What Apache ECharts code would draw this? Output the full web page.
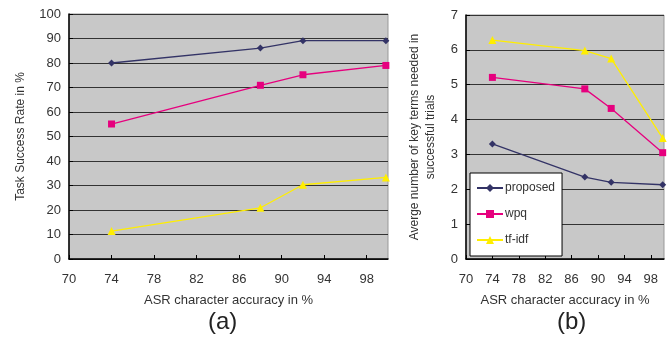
<!DOCTYPE html>
<html>
<head>
<meta charset="utf-8">
<script src="https://cdn.jsdelivr.net/npm/echarts@6/dist/echarts.min.js"></script>
<style>
html,body{margin:0;padding:0;background:#fff;}
#main{width:670px;height:341px;}
</style>
</head>
<body>
<div id="main"></div>
<script>
// accuracy values (x)
var accuracy = [74, 88, 92, 99.8];
// (a) task success rate in %
var rateProposed = [80, 86.1, 89.1, 89.1];
var rateWpq = [55.1, 70.9, 75.2, 79.0];
var rateTfidf = [11.4, 20.9, 30.3, 33.3];
// (b) average number of key terms
var termsProposed = [3.30, 2.35, 2.20, 2.13];
var termsWpq = [5.21, 4.88, 4.32, 3.05];
var termsTfidf = [6.28, 5.98, 5.75, 3.47];

var seriesNames = ['proposed', 'wpq', 'tf-idf'];
var colors = ['#333366', '#e6007e', '#ffee00'];
var symbols = ['diamond', 'rect', 'triangle'];
var symbolSizes = [7, 7, 8];

function pairs(xs, ys) {
    var out = [];
    for (var i = 0; i < xs.length; i++) {
        out.push([xs[i], ys[i]]);
    }
    return out;
}

var font = 'Liberation Sans, Arial, sans-serif';

function makeX(idx) {
    return {
        type: 'value', gridIndex: idx, min: 70, max: 100, interval: 4,
        name: 'ASR character accuracy in %', nameLocation: 'middle', nameGap: 35,
        nameTextStyle: {color: '#333', fontSize: 13, fontFamily: font},
        axisLine: {lineStyle: {color: '#000', width: 1.5}},
        axisTick: {show: true, inside: true, length: 4, lineStyle: {color: '#000'}},
        axisLabel: {color: '#333', fontSize: 13, fontFamily: font, margin: 14, showMaxLabel: false},
        splitLine: {show: false}
    };
}

function makeY(idx, max, interval, name, gap) {
    return {
        type: 'value', gridIndex: idx, min: 0, max: max, interval: interval,
        name: name, nameLocation: 'middle', nameGap: gap, nameRotate: 90,
        nameTextStyle: {color: '#333', fontSize: 12, fontFamily: font, lineHeight: 16},
        axisLine: {show: true, lineStyle: {color: '#000', width: 1.5}},
        axisTick: {show: true, inside: true, length: 4, lineStyle: {color: '#000'}},
        axisLabel: {color: '#333', fontSize: 13, fontFamily: font, margin: 8},
        splitLine: {show: true, lineStyle: {color: '#333', width: 1.2}}
    };
}

var series = [];
var dataA = [rateProposed, rateWpq, rateTfidf];
var dataB = [termsProposed, termsWpq, termsTfidf];
for (var i = 0; i < 3; i++) {
    series.push({
        name: seriesNames[i], type: 'line', xAxisIndex: 0, yAxisIndex: 0,
        data: pairs(accuracy, dataA[i]), symbol: symbols[i], symbolSize: symbolSizes[i],
        lineStyle: {color: colors[i], width: 1.3}, itemStyle: {color: colors[i]}
    });
    series.push({
        name: seriesNames[i], type: 'line', xAxisIndex: 1, yAxisIndex: 1,
        data: pairs(accuracy, dataB[i]), symbol: symbols[i], symbolSize: symbolSizes[i],
        lineStyle: {color: colors[i], width: 1.3}, itemStyle: {color: colors[i]}
    });
}

var chart = echarts.init(document.getElementById('main'));
var option = {
    animation: false,
    backgroundColor: '#fff',
    title: [
        {text: '(a)', left: 203, top: 305, textStyle: {fontSize: 24, fontWeight: 'normal', color: '#222', fontFamily: font}},
        {text: '(b)', left: 552, top: 305, textStyle: {fontSize: 24, fontWeight: 'normal', color: '#222', fontFamily: font}}
    ],
    grid: [
        {left: 69, right: 282, top: 14, bottom: 82, show: true, backgroundColor: '#c8c8c8', borderColor: '#999', borderWidth: 1},
        {left: 466, right: 6, top: 15, bottom: 82, show: true, backgroundColor: '#c8c8c8', borderColor: '#999', borderWidth: 1}
    ],
    legend: {
        data: seriesNames, orient: 'vertical', left: 470, top: 173,
        itemWidth: 26, itemHeight: 10, itemGap: 14,
        padding: [9, 7, 10, 6],
        backgroundColor: '#fff', borderColor: '#000', borderWidth: 1,
        textStyle: {color: '#333', fontSize: 12, fontFamily: font, padding: [0, 0, 0, -3]}
    },
    xAxis: [makeX(0), makeX(1)],
    yAxis: [
        makeY(0, 100, 10, 'Task Success Rate in %', 40),
        makeY(1, 7, 1, 'Averge number of key terms needed in\nsuccessful trials', 27)
    ],
    series: series
};
chart.setOption(option);
</script>
</body>
</html>
